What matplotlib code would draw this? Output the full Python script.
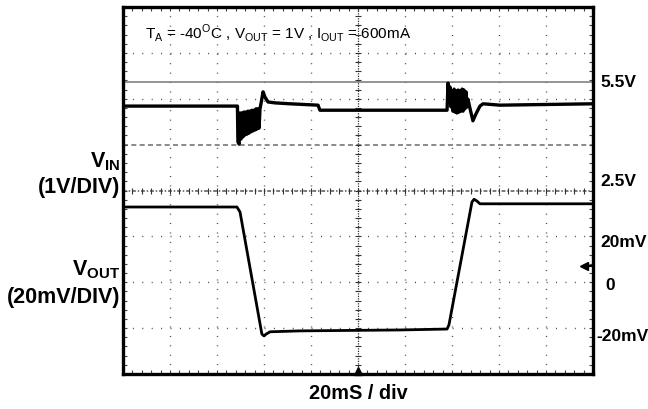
import numpy as np
import matplotlib
matplotlib.use("Agg")
import matplotlib.pyplot as plt

plt.rcParams['font.family'] = ['Liberation Sans', 'DejaVu Sans']
plt.rcParams['mathtext.fontset'] = 'custom'
plt.rcParams['mathtext.rm'] = 'Liberation Sans'
plt.rcParams['mathtext.bf'] = 'Liberation Sans:bold'

# time in ms (20 ms / div), traces in screen divisions (8 div tall)
vin_t = [0, 48.5, 48.7, 48.9, 49.4, 49.8, 50.2, 50.6, 51.1, 51.5, 51.9, 52.3, 52.8, 53.2,
         53.6, 54.0, 54.5, 54.9, 55.3, 55.7, 56.2, 56.6, 57.0, 57.4, 57.9, 58.3, 58.7,
         59.6, 60.4, 61.7, 64.7, 71.1, 83.0, 83.8, 137.9, 138.3, 138.7,
         139.1, 139.6, 140.0, 140.4, 140.9, 141.3, 141.7, 142.1, 142.6, 143.0, 143.4,
         143.8, 144.3, 144.7, 145.1, 145.5, 146.0, 146.4, 146.8,
         147.7, 148.9, 150.2, 151.9, 153.2, 160.4, 200]
vin_v = [5.84, 5.84, 5.84, 5.06, 5.01, 5.69, 5.12, 5.69, 5.17, 5.71, 5.21, 5.71, 5.23, 5.73,
         5.25, 5.73, 5.28, 5.75, 5.30, 5.75, 5.32, 5.78, 5.34, 5.78, 5.36, 5.78, 5.89,
         6.15, 6.04, 5.93, 5.91, 5.89, 5.86, 5.75, 5.75, 6.34, 5.99,
         6.26, 5.82, 6.17, 5.73, 6.21, 5.71, 6.17, 5.69, 6.19, 5.71, 6.17, 5.73, 6.21,
         5.73, 6.19, 5.78, 6.15, 5.82, 5.99,
         5.78, 5.52, 5.67, 5.84, 5.89, 5.86, 5.89]

vout_t = [0, 48.5, 49.8, 59.1, 60.0, 60.9, 62.6, 75.3, 117.9, 137.9, 138.7,
          148.5, 149.4, 150.6, 151.9, 200]
vout_v = [3.64, 3.64, 3.53, 0.87, 0.83, 0.87, 0.92, 0.94, 0.96, 0.98, 1.07,
          3.75, 3.81, 3.77, 3.71, 3.71]

right_labels = ['5.5V', '2.5V', '20mV', '0', '-20mV']
right_label_y = [6.37, 4.21, 2.88, 1.96, 0.83]
right_label_x = [1.015, 1.015, 1.015, 1.026, 1.008]
ref_line_y = 6.37   # 5.5V marker
gnd_arrow_y = 2.35

fig = plt.figure(figsize=(6.48, 4.10), dpi=100)
ax = fig.add_axes([123/648, 1-375/410, 470/648, 367/410])
ax.set_xlim(0, 200)
ax.set_ylim(0, 8)

# scope graticule
dots = (0, (0.7, 6.07))
for gx in np.arange(20, 200, 20):
    if gx != 100:
        ax.axvline(gx, color='#444444', lw=1, ls=dots, zorder=1)
for gy in range(1, 8):
    if gy == 4:
        continue
    if gy == 5:
        ax.axhline(gy, color='#777777', lw=1.2, ls=(0, (3, 2)), zorder=1)
    else:
        ax.axhline(gy, color='#444444', lw=1, ls=dots, zorder=1)
ax.axvline(100, color='#333333', lw=0.9, ls=(0, (1, 1)), zorder=1)
ax.axhline(4, color='#555555', lw=1.1, ls=(0, (2.5, 1.2, 1, 1.2)), zorder=1)
tx = np.arange(4, 200, 4)
ty = np.arange(0.2, 8, 0.2)
ax.plot(tx, np.full_like(tx, 4.0), ls='none', marker='|', ms=4, mew=0.8, color='#333333')
ax.plot(np.full_like(ty, 100.0), ty, ls='none', marker='_', ms=4, mew=0.8, color='#333333')

ax.axhline(ref_line_y, color='#777777', lw=1.1, zorder=2)

ax.plot(vin_t, vin_v, color='black', lw=2.4, zorder=3)
ax.plot(vout_t, vout_v, color='black', lw=2.0, zorder=3)

# markers
ax.plot([100], [0.06], marker='^', ms=6, color='black', clip_on=False, zorder=4)
ax.plot([196.3], [gnd_arrow_y], marker='<', ms=6, color='black', zorder=4)
ax.plot([196.3, 200], [gnd_arrow_y, gnd_arrow_y], color='black', lw=1.5, zorder=4)

ax.set_xticks(np.arange(0, 201, 20))
ax.set_yticks(np.arange(0, 9, 1))
ax.set_xticks(np.arange(0, 201, 4), minor=True)
ax.set_yticks(np.arange(0, 8.01, 0.2), minor=True)
ax.tick_params(which='both', direction='in', length=3, width=0.8, color='#444444',
               top=True, right=True, labelbottom=False, labelleft=False)
for s in ax.spines.values():
    s.set_linewidth(2.4)

ax.text(9.4, 7.45, r'T$_\mathregular{A}$ = -40$^\mathregular{O}$C , V$_\mathregular{OUT}$ = 1V , '
        r'I$_\mathregular{OUT}$ = 600mA', fontsize=11, va='center', ha='left')

for lab, ly, lx in zip(right_labels, right_label_y, right_label_x):
    ax.text(lx, ly, lab, transform=ax.get_yaxis_transform(), fontsize=12.5,
            fontweight='bold', va='center', ha='left')

lt = ax.get_yaxis_transform()
ax.text(-0.006, 4.64, r'V$_\mathbf{IN}$', transform=lt, fontsize=15.5,
        fontweight='bold', ha='right', va='center')
ax.text(-0.006, 4.08, '(1V/DIV)', transform=lt, fontsize=15.5, fontweight='bold',
        ha='right', va='center')
ax.text(-0.006, 2.29, r'V$_\mathbf{OUT}$', transform=lt, fontsize=15.5,
        fontweight='bold', ha='right', va='center')
ax.text(-0.006, 1.70, '(20mV/DIV)', transform=lt, fontsize=15.5, fontweight='bold',
        ha='right', va='center')

ax.text(0.5, -0.05, '20mS / div', transform=ax.transAxes, fontsize=14.3,
        fontweight='bold', ha='center', va='center')

fig.savefig('out.png', dpi=100)
